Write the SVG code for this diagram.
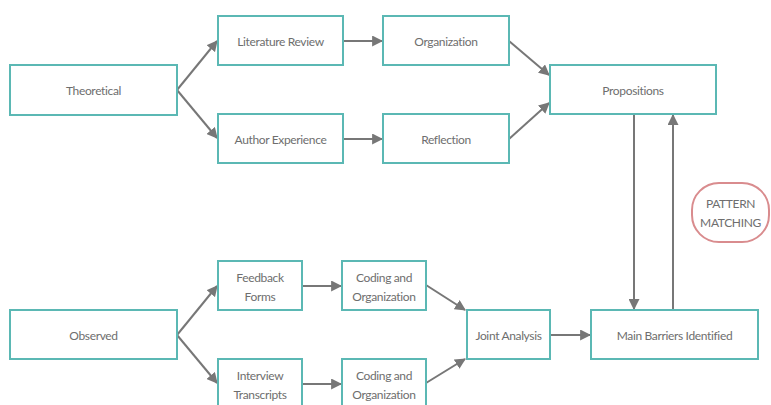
<svg xmlns="http://www.w3.org/2000/svg" width="771" height="405" viewBox="0 0 771 405">
<defs>
<marker id="ah" viewBox="0 0 10 10" refX="9" refY="5" markerWidth="5.5" markerHeight="5.5" orient="auto" markerUnits="strokeWidth">
<path d="M0,0 L10,5 L0,10 z" fill="#777"/>
</marker>
<style>
.n{fill:#fff;stroke:#5bb8b4;stroke-width:2}
.t{font-family:Lato,"Open Sans",sans-serif;font-size:12px;letter-spacing:-0.35px;fill:#6e6e6e;text-anchor:middle;dominant-baseline:central}
.c{fill:none;stroke:#777;stroke-width:2;marker-end:url(#ah)}
.p{fill:#fff;stroke:#d98c8e;stroke-width:2}
</style>
</defs>
<rect width="771" height="405" fill="#fff"/>
<g id="connectors">
<line class="c" x1="177" y1="90" x2="217" y2="41"/>
<line class="c" x1="177" y1="90" x2="217" y2="138"/>
<line class="c" x1="343" y1="41" x2="382" y2="41"/>
<line class="c" x1="343" y1="139" x2="382" y2="139"/>
<line class="c" x1="509" y1="41" x2="549" y2="75"/>
<line class="c" x1="509" y1="139" x2="549" y2="103"/>
<line class="c" x1="634" y1="114" x2="634" y2="309"/>
<line class="c" x1="673" y1="310" x2="673" y2="115"/>
<line class="c" x1="177" y1="335" x2="217" y2="286"/>
<line class="c" x1="177" y1="335" x2="217" y2="383"/>
<line class="c" x1="302" y1="286" x2="341" y2="286"/>
<line class="c" x1="302" y1="384" x2="341" y2="384"/>
<line class="c" x1="426" y1="285" x2="465" y2="310"/>
<line class="c" x1="426" y1="383" x2="465" y2="359"/>
<line class="c" x1="550" y1="335" x2="590" y2="335"/>
</g>
<g id="theoretical"><rect class="n" x="10" y="65" width="167" height="50"/><text class="t" x="93.5" y="90">Theoretical</text></g>
<g id="literature-review"><rect class="n" x="218" y="16" width="125" height="49"/><text class="t" x="280.5" y="41">Literature Review</text></g>
<g id="author-experience"><rect class="n" x="218" y="114" width="125" height="49"/><text class="t" x="280.5" y="139">Author Experience</text></g>
<g id="organization"><rect class="n" x="383" y="16" width="126" height="49"/><text class="t" x="446" y="41">Organization</text></g>
<g id="reflection"><rect class="n" x="383" y="114" width="126" height="49"/><text class="t" x="446" y="139">Reflection</text></g>
<g id="propositions"><rect class="n" x="550" y="65" width="166" height="49"/><text class="t" x="633" y="90">Propositions</text></g>
<g id="pattern-matching"><rect class="p" x="692" y="183" width="77" height="59" rx="27" ry="27"/><text class="t" x="730.5" y="203">PATTERN</text><text class="t" x="730.5" y="222">MATCHING</text></g>
<g id="observed"><rect class="n" x="10" y="310" width="167" height="49"/><text class="t" x="93.5" y="335">Observed</text></g>
<g id="feedback-forms"><rect class="n" x="218" y="261" width="84" height="49"/><text class="t" x="260" y="277">Feedback</text><text class="t" x="260" y="296">Forms</text></g>
<g id="interview-transcripts"><rect class="n" x="218" y="359" width="84" height="49"/><text class="t" x="260" y="375">Interview</text><text class="t" x="260" y="394">Transcripts</text></g>
<g id="coding-1"><rect class="n" x="342" y="261" width="84" height="49"/><text class="t" x="384" y="277">Coding and</text><text class="t" x="384" y="296">Organization</text></g>
<g id="coding-2"><rect class="n" x="342" y="359" width="84" height="49"/><text class="t" x="384" y="375">Coding and</text><text class="t" x="384" y="394">Organization</text></g>
<g id="joint-analysis"><rect class="n" x="467" y="310" width="83" height="49"/><text class="t" x="508.5" y="335">Joint Analysis</text></g>
<g id="main-barriers"><rect class="n" x="591" y="310" width="167" height="49"/><text class="t" x="674.5" y="335">Main Barriers Identified</text></g>
</svg>
